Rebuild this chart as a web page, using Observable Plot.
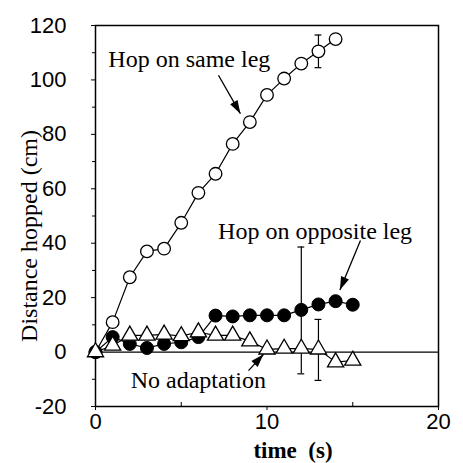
<!DOCTYPE html>
<html><head><meta charset="utf-8">
<script src="https://cdn.jsdelivr.net/npm/d3@7"></script>
<script src="https://cdn.jsdelivr.net/npm/@observablehq/plot@0.6"></script>
<style>body{margin:0;background:#fff}</style>
</head><body><div id="chart"></div>
<script>
// ---- data ----
const timeSame = [0,1,2,3,4,5,6,7,8,9,10,11,12,13,14];
const sameLeg = [0,11,27.5,37,38,47.5,58.5,65.5,76.5,84.5,94.5,100.5,106,110.5,115];
const timeOpp = [0,1,2,3,4,5,6,7,8,9,10,11,12,13,14,15];
const oppositeLeg = [0,5.5,3,1.5,3,3.6,5.5,13.4,13.1,13.5,13.5,13.5,15.5,17.5,18.7,17.4];
const timeNo = [0,1,2,3,4,5,6,7,8,9,10,11,12,13,14,15];
const noAdapt = [0,2.4,6.1,6.1,6.5,5.9,7.3,6.1,6.1,4.0,1.0,1.3,1.3,1.0,-3.7,-3.1];
// error bars: time, mean, half-length
const errTime = [13,12,13];
const errMean = [110.5,15.3,0.8];
const errHalf = [6,23.3,11.2];
// axis ticks
const yTicks = [-20,0,20,40,60,80,100,120];
const yMinor = [-10,10,30,50,70,90,110];
const xTicks = [0,10,20];
const xMinor = [5,15];
// annotations
const labels = ["Hop on same leg","Hop on opposite leg","No adaptation"];
const labelX = [0.75,7.15,2.05];
const labelY = [107.5,44.5,-10.5];
const arrowX1 = [7.17,15.45,8.92];
const arrowY1 = [101.7,41.0,-6.8];
const arrowX2 = [8.45,14.25,9.8];
const arrowY2 = [87.6,22.8,-0.8];

// ---- layout ----
const W = 463, H = 463;
const mL = 95, mR = 25, mT = 25, mB = 57;
const xDom = [0,20], yDom = [-20,120];
const kx = (W-mL-mR)/(xDom[1]-xDom[0]);
const ky = (H-mT-mB)/(yDom[1]-yDom[0]);

const mk = (ts, vs) => ts.map((t,i)=>({t, v: vs[i]}));
const same = mk(timeSame, sameLeg);
const opp = mk(timeOpp, oppositeLeg);
const noad = mk(timeNo, noAdapt);
const errs = errTime.map((t,i)=>({t, lo: errMean[i]-errHalf[i], hi: errMean[i]+errHalf[i]}));
const ann = labels.map((s,i)=>({s, x: labelX[i], y: labelY[i]}));
const arrows = arrowX1.map((x1,i)=>{
  const x2 = arrowX2[i], y1 = arrowY1[i], y2 = arrowY2[i];
  const ang = Math.atan2((x2-x1)*kx, (y2-y1)*ky)*180/Math.PI;
  return {x1, y1, x2, y2, ang};
});
const arrowHead = {
  draw(ctx, size) {
    const L = Math.sqrt(size), w = L*0.32;
    ctx.moveTo(0,0); ctx.lineTo(-w, L); ctx.lineTo(w, L); ctx.closePath();
  }
};

const serif = "Liberation Serif, Times New Roman, serif";
const sans = "Liberation Sans, Arial, Helvetica, sans-serif";

const chart = Plot.plot({
  width: W, height: H,
  marginLeft: mL, marginRight: mR, marginTop: mT, marginBottom: mB,
  x: {domain: xDom},
  y: {domain: yDom},
  style: {background: "#fff", color: "#000"},
  marks: [
    Plot.ruleY([0], {stroke: "#000", strokeWidth: 1.2}),
    Plot.axisY(yTicks, {tickSize: 4, tickPadding: 25, fontSize: 22, fontFamily: sans, label: null, tickFormat: d => String(d)}),
    Plot.axisY(yMinor, {tickSize: 3, text: null, label: null}),
    Plot.axisX(xTicks, {tickSize: 4, tickPadding: 3, fontSize: 22, fontFamily: sans, label: null, tickFormat: d => String(d)}),
    Plot.axisX(xMinor, {tickSize: -4, text: null, label: null}),
    Plot.frame({stroke: "#000", strokeWidth: 1.5}),
    // lines
    Plot.line(same, {x: "t", y: "v", stroke: "#000", strokeWidth: 1.2}),
    Plot.line(opp, {x: "t", y: "v", stroke: "#000", strokeWidth: 1.2}),
    Plot.line(noad, {x: "t", y: "v", stroke: "#000", strokeWidth: 1.2}),
    // error bars
    Plot.ruleX(errs, {x: "t", y1: "lo", y2: "hi", stroke: "#000", strokeWidth: 1.2}),
    Plot.ruleY(errs, {y: "lo", x1: d => d.t-0.2, x2: d => d.t+0.2, stroke: "#000", strokeWidth: 1.2}),
    Plot.ruleY(errs, {y: "hi", x1: d => d.t-0.2, x2: d => d.t+0.2, stroke: "#000", strokeWidth: 1.2}),
    // markers
    Plot.dot(same, {x: "t", y: "v", r: 6.3, fill: "#fff", stroke: "#000", strokeWidth: 1.3}),
    Plot.dot(opp, {x: "t", y: "v", r: 6.5, fill: "#000", stroke: "#000", strokeWidth: 1}),
    Plot.dot(noad, {x: "t", y: "v", r: 6, symbol: "triangle", fill: "#fff", stroke: "#000", strokeWidth: 1.3}),
    // annotations
    Plot.link(arrows, {x1: "x1", y1: "y1", x2: "x2", y2: "y2", stroke: "#000", strokeWidth: 1.3}),
    Plot.dot(arrows, {x: "x2", y: "y2", symbol: arrowHead, r: 7.5, rotate: "ang", fill: "#000", stroke: "none"}),
    Plot.text(ann, {x: "x", y: "y", text: "s", textAnchor: "start", fontSize: 24, fontFamily: serif, fill: "#000"}),
    Plot.text(["Distance hopped (cm)"], {frameAnchor: "left", textAnchor: "middle", lineAnchor: "middle", rotate: -90, dx: -66, dy: 20, fontSize: 24, fontFamily: serif, fill: "#000"}),
    Plot.text(["time  (s)"], {frameAnchor: "bottom", textAnchor: "middle", lineAnchor: "middle", dx: 26, dy: 44, fontSize: 23, fontWeight: "bold", fontFamily: serif, fill: "#000", style: "white-space:pre"})
  ]
});
document.getElementById("chart").appendChild(chart);
</script>
</body></html>
